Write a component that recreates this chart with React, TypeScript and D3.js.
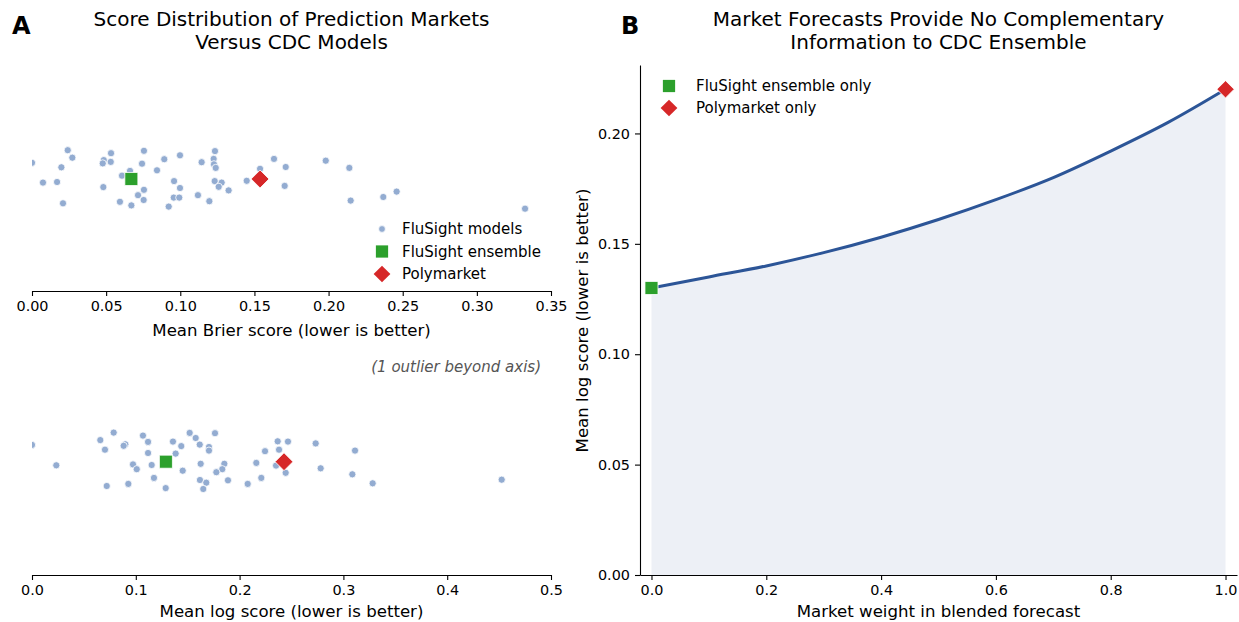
import React, { useEffect, useRef } from "react";
import * as d3 from "d3";

// Panel A: FluSight model scores (value, vertical jitter in [-1, 1])
const brierScores = [
  0.0, 0.0241, 0.0272, 0.0198, 0.0074, 0.0169, 0.0209, 0.0481, 0.0484, 0.0477,
  0.0533, 0.0531, 0.0755, 0.0742, 0.0661, 0.0607, 0.0593, 0.0715, 0.0755, 0.0753,
  0.067, 0.0843, 0.0892, 0.0998, 0.0958, 0.0998, 0.0956, 0.0993, 0.0922, 0.1144,
  0.1119, 0.1196, 0.1234, 0.1225, 0.1227, 0.1239, 0.1232, 0.1279, 0.1259, 0.1326,
  0.1448, 0.1538, 0.1632, 0.1711, 0.1704, 0.1981, 0.214, 0.2149, 0.2369, 0.2459,
  0.3325,
];
const brierJitter = [
  0.54, 0.96, 0.71, 0.39, -0.12, -0.1, -0.81, -0.27, 0.63, 0.52,
  0.86, 0.57, 0.94, 0.51, 0.27, 0.11, -0.76, -0.54, -0.36, -0.7,
  -0.88, 0.29, 0.66, 0.79, -0.07, -0.3, -0.62, -0.62, -0.92, 0.56,
  -0.54, -0.74, 0.93, 0.67, 0.49, 0.37, -0.07, -0.12, -0.26, -0.38,
  -0.06, 0.34, 0.67, 0.4, -0.23, 0.61, 0.37, -0.72, -0.6, -0.42,
  -0.99,
];
const logScores = [
  0.0, 0.0234, 0.0658, 0.0787, 0.0703, 0.0899, 0.0883, 0.1069, 0.1118, 0.1118,
  0.0973, 0.1009, 0.1153, 0.1175, 0.072, 0.0928, 0.1288, 0.1358, 0.1438, 0.1384,
  0.1452, 0.1519, 0.1577, 0.1616, 0.1705, 0.1705, 0.1763, 0.1625, 0.1853, 0.1833,
  0.1776, 0.1618, 0.1679, 0.165, 0.1888, 0.2078, 0.2209, 0.2161, 0.2245, 0.2367,
  0.238, 0.2466, 0.2351, 0.2444, 0.2733, 0.3112, 0.2781, 0.3086, 0.3282, 0.4525,
];
const logJitter = [
  0.56, -0.12, 0.72, 0.97, 0.4, 0.58, 0.53, 0.87, 0.66, 0.29,
  -0.09, -0.25, -0.11, -0.54, -0.81, -0.74, -0.88, 0.67, 0.52, 0.27,
  -0.3, 0.96, 0.79, 0.57, 0.49, 0.37, 0.95, -0.07, -0.07, -0.25,
  -0.35, -0.61, -0.7, -0.91, -0.62, -0.74, -0.54, -0.04, 0.35, 0.68,
  0.4, 0.67, -0.13, -0.37, 0.61, 0.37, -0.22, -0.42, -0.72, -0.6,
];
const ensembleBrier = 0.067;
const polymarketBrier = 0.1538;
const ensembleLog = 0.129;
const polymarketLog = 0.2428;

const brierTicks = [0, 0.05, 0.1, 0.15, 0.2, 0.25, 0.3, 0.35];
const logTicks = [0, 0.1, 0.2, 0.3, 0.4, 0.5];

// Panel B: blended forecast log score vs market weight
const marketWeights = [0, 0.1, 0.2, 0.3, 0.4, 0.5, 0.6, 0.7, 0.8, 0.9, 1.0];
const blendedLogScore = [0.13, 0.135, 0.14, 0.146, 0.153, 0.161, 0.17, 0.18, 0.192, 0.205, 0.22];
const weightTicks = [0, 0.2, 0.4, 0.6, 0.8, 1.0];
const scoreTicks = [0, 0.05, 0.1, 0.15, 0.2];

const FONT = "DejaVu Sans";
const MODEL_COLOR = "#93acd1";
const GREEN = "#2ca02c";
const RED = "#d62728";
const CURVE = "#2c5597";

const W = 1239;
const H = 622;

const App: React.FC = () => {
  const svgRef = useRef<SVGSVGElement>(null);

  useEffect(() => {
    const svg = d3.select(svgRef.current);
    svg.selectAll("*").remove();
    svg.style("font-family", FONT);

    const square = d3.symbol().type(d3.symbolSquare);
    const diamond = (size: number) =>
      d3.symbol().type(d3.symbolSquare).size(size)();

    const styleAxis = (g: any) => {
      g.selectAll("text").style("font-size", "14.4px").attr("fill", "#000");
      g.selectAll("line").attr("stroke", "#000").attr("stroke-width", 1.1);
      g.select(".domain").attr("stroke", "#000").attr("stroke-width", 1.1);
      g.attr("font-family", FONT);
    };

    // ---- Panel A strips ----
    const strips = [
      {
        id: "brier",
        axisY: 291,
        center: 179,
        domain: [0, 0.35],
        ticks: brierTicks,
        fmt: d3.format(".2f"),
        values: brierScores,
        jitter: brierJitter,
        ens: ensembleBrier,
        poly: polymarketBrier,
        label: "Mean Brier score (lower is better)",
        labelY: 336,
      },
      {
        id: "log",
        axisY: 575,
        center: 461.7,
        domain: [0, 0.5],
        ticks: logTicks,
        fmt: d3.format(".1f"),
        values: logScores,
        jitter: logJitter,
        ens: ensembleLog,
        poly: polymarketLog,
        label: "Mean log score (lower is better)",
        labelY: 617,
      },
    ];

    strips.forEach((s) => {
      const x = d3.scaleLinear().domain(s.domain).range([32, 551]);
      const y = d3.scaleLinear().domain([-1, 1]).range([s.center + 30, s.center - 30]);

      svg
        .append("clipPath")
        .attr("id", "clip-" + s.id)
        .append("rect")
        .attr("x", 32)
        .attr("y", s.axisY - 200)
        .attr("width", 519)
        .attr("height", 200);

      const g = svg.append("g").attr("clip-path", `url(#clip-${s.id})`);
      g.selectAll("circle")
        .data(s.values)
        .enter()
        .append("circle")
        .attr("cx", (d) => x(d))
        .attr("cy", (d, i) => y(s.jitter[i]))
        .attr("r", 3.6)
        .attr("fill", MODEL_COLOR)
        .attr("stroke", "#fff")
        .attr("stroke-width", 0.8);

      svg
        .append("path")
        .attr("d", square.size(170)())
        .attr("transform", `translate(${x(s.ens)},${y(0)})`)
        .attr("fill", GREEN)
        .attr("stroke", "#fff")
        .attr("stroke-width", 0.8);
      svg
        .append("path")
        .attr("d", diamond(160))
        .attr("transform", `translate(${x(s.poly)},${y(0)}) rotate(45)`)
        .attr("fill", RED)
        .attr("stroke", "#fff")
        .attr("stroke-width", 0.8);

      const ax = svg
        .append("g")
        .attr("transform", `translate(0,${s.axisY})`)
        .call(
          d3
            .axisBottom(x)
            .tickValues(s.ticks)
            .tickFormat((d: any) => s.fmt(d))
            .tickSize(5)
            .tickSizeOuter(0)
            .tickPadding(5)
        );
      styleAxis(ax);

      svg
        .append("text")
        .attr("x", 291.5)
        .attr("y", s.labelY)
        .attr("text-anchor", "middle")
        .style("font-size", "16.6px")
        .text(s.label);
    });

    svg
      .append("text")
      .attr("x", 541)
      .attr("y", 372)
      .attr("text-anchor", "end")
      .style("font-size", "15px")
      .style("font-style", "italic")
      .attr("fill", "#555")
      .text("(1 outlier beyond axis)");

    // legend A
    const legA = [
      { kind: "dot", label: "FluSight models" },
      { kind: "square", label: "FluSight ensemble" },
      { kind: "diamond", label: "Polymarket" },
    ];
    legA.forEach((item, i) => {
      const cy = 229 + i * 22.5;
      if (item.kind === "dot") {
        svg.append("circle").attr("cx", 382).attr("cy", cy).attr("r", 3.4)
          .attr("fill", MODEL_COLOR).attr("stroke", "#fff").attr("stroke-width", 0.8);
      } else if (item.kind === "square") {
        svg.append("path").attr("d", square.size(150)())
          .attr("transform", `translate(382,${cy})`).attr("fill", GREEN);
      } else {
        svg.append("path").attr("d", diamond(140))
          .attr("transform", `translate(382,${cy}) rotate(45)`).attr("fill", RED);
      }
      svg.append("text").attr("x", 402).attr("y", cy + 5)
        .style("font-size", "15px").text(item.label);
    });

    // ---- Panel B ----
    const xb = d3.scaleLinear().domain([-0.02, 1.02]).range([640, 1237]);
    const yb = d3.scaleLinear().domain([0, 0.231]).range([575, 65]);
    const pts = marketWeights.map((w, i) => [w, blendedLogScore[i]] as [number, number]);

    svg
      .append("path")
      .datum(pts)
      .attr(
        "d",
        d3
          .area<[number, number]>()
          .x((d) => xb(d[0]))
          .y0(yb(0))
          .y1((d) => yb(d[1]))
          .curve(d3.curveMonotoneX)
      )
      .attr("fill", "#edf0f6");

    svg
      .append("path")
      .datum(pts)
      .attr(
        "d",
        d3
          .line<[number, number]>()
          .x((d) => xb(d[0]))
          .y((d) => yb(d[1]))
          .curve(d3.curveMonotoneX)
      )
      .attr("fill", "none")
      .attr("stroke", CURVE)
      .attr("stroke-width", 3);

    svg
      .append("path")
      .attr("d", square.size(170)())
      .attr("transform", `translate(${xb(0)},${yb(blendedLogScore[0])})`)
      .attr("fill", GREEN)
      .attr("stroke", "#fff")
      .attr("stroke-width", 0.8);
    svg
      .append("path")
      .attr("d", diamond(150))
      .attr(
        "transform",
        `translate(${xb(1)},${yb(blendedLogScore[blendedLogScore.length - 1])}) rotate(45)`
      )
      .attr("fill", RED)
      .attr("stroke", "#fff")
      .attr("stroke-width", 0.8);

    const axB = svg
      .append("g")
      .attr("transform", "translate(0,575)")
      .call(
        d3
          .axisBottom(xb)
          .tickValues(weightTicks)
          .tickFormat(d3.format(".1f") as any)
          .tickSize(5)
          .tickSizeOuter(0)
          .tickPadding(5)
      );
    styleAxis(axB);
    const ayB = svg
      .append("g")
      .attr("transform", "translate(640,0)")
      .call(
        d3
          .axisLeft(yb)
          .tickValues(scoreTicks)
          .tickFormat(d3.format(".2f") as any)
          .tickSize(5)
          .tickSizeOuter(0)
          .tickPadding(5)
      );
    styleAxis(ayB);

    svg
      .append("text")
      .attr("x", 938.5)
      .attr("y", 617)
      .attr("text-anchor", "middle")
      .style("font-size", "16.6px")
      .text("Market weight in blended forecast");
    svg
      .append("text")
      .attr("transform", "translate(588,320.5) rotate(-90)")
      .attr("text-anchor", "middle")
      .style("font-size", "16.6px")
      .text("Mean log score (lower is better)");

    // legend B
    const legB = [
      { kind: "square", label: "FluSight ensemble only" },
      { kind: "diamond", label: "Polymarket only" },
    ];
    legB.forEach((item, i) => {
      const cy = 86 + i * 22;
      if (item.kind === "square") {
        svg.append("path").attr("d", square.size(150)())
          .attr("transform", `translate(669,${cy})`).attr("fill", GREEN);
      } else {
        svg.append("path").attr("d", diamond(140))
          .attr("transform", `translate(669,${cy}) rotate(45)`).attr("fill", RED);
      }
      svg.append("text").attr("x", 696).attr("y", cy + 5)
        .style("font-size", "15px").text(item.label);
    });

    // titles and panel letters
    const titles = [
      { cx: 291.5, lines: ["Score Distribution of Prediction Markets", "Versus CDC Models"] },
      { cx: 938.5, lines: ["Market Forecasts Provide No Complementary", "Information to CDC Ensemble"] },
    ];
    titles.forEach((t) => {
      t.lines.forEach((line, i) => {
        svg.append("text").attr("x", t.cx).attr("y", 26 + i * 22.5)
          .attr("text-anchor", "middle").style("font-size", "20px").text(line);
      });
    });
    [
      { x: 12, label: "A" },
      { x: 621, label: "B" },
    ].forEach((p) => {
      svg.append("text").attr("x", p.x).attr("y", 34)
        .style("font-size", "24px").style("font-weight", "bold").text(p.label);
    });
  }, []);

  return (
    <svg
      ref={svgRef}
      width={W}
      height={H}
      style={{ position: "absolute", left: 0, top: 0, background: "#fff" }}
    />
  );
};

export default App;
